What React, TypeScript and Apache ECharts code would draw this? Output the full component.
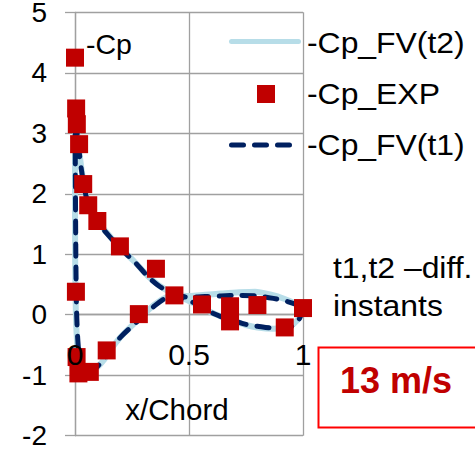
import React, { useEffect, useRef } from "react";
import * as echarts from "echarts";

// Axis ranges and ticks
const xMin = 0;
const xMax = 1;
const xStep = 0.5;
const yMin = -2;
const yMax = 5;
const yStep = 1;

const seriesNames = ["-Cp_FV(t2)", "-Cp_EXP", "-Cp_FV(t1)"];
const yTitle = "-Cp";
const xTitle = "x/Chord";
const noteLines = ["t1,t2 \u2013diff.", "instants"];
const speedLabel = "13 m/s";

// Measured pressure coefficient (x/c, -Cp)
const expPoints: [number, number][] = [
  [0.0, 4.25],
  [0.005, 3.41],
  [0.008, 3.15],
  [0.018, 2.82],
  [0.036, 2.16],
  [0.058, 1.81],
  [0.098, 1.55],
  [0.197, 1.13],
  [0.355, 0.76],
  [0.436, 0.32],
  [0.557, 0.17],
  [0.68, 0.14],
  [0.68, -0.11],
  [0.8, 0.16],
  [0.92, -0.21],
  [1.0, 0.11],
  [0.004, 0.38],
  [0.007, -0.7],
  [0.015, -0.97],
  [0.065, -0.945],
  [0.139, -0.59],
  [0.28, 0.01],
];

// Finite-volume result at instant t1, closed loop around the profile
const fvT1: [number, number][] = [
  [1.0, 0.12], [0.985, -0.06], [0.96, -0.17], [0.93, -0.22], [0.87, -0.22],
  [0.8, -0.19], [0.75, -0.16], [0.7, -0.1], [0.64, -0.03], [0.58, 0.07],
  [0.52, 0.2], [0.47, 0.28], [0.43, 0.35], [0.37, 0.47], [0.32, 0.63],
  [0.26, 0.88], [0.2, 1.09], [0.15, 1.3], [0.1, 1.52], [0.08, 1.63],
  [0.06, 1.8], [0.045, 2.02], [0.028, 2.4], [0.015, 2.8], [0.007, 3.1],
  [0.003, 3.22], [0.001, 2.9], [0.002, 2.0], [0.004, 0.8], [0.007, 0.05],
  [0.012, -0.4], [0.02, -0.75], [0.03, -0.93], [0.045, -1.0], [0.07, -0.94],
  [0.1, -0.85], [0.13, -0.72], [0.16, -0.55], [0.2, -0.37], [0.25, -0.19],
  [0.3, -0.02], [0.35, 0.15], [0.4, 0.28], [0.45, 0.31], [0.5, 0.29],
  [0.57, 0.3], [0.64, 0.31], [0.72, 0.32], [0.8, 0.31], [0.87, 0.27],
  [0.93, 0.22], [0.97, 0.17], [1.0, 0.12],
];

// Finite-volume result at instant t2
const fvT2: [number, number][] = [
  [1.0, 0.12], [0.985, -0.04], [0.96, -0.15], [0.93, -0.21], [0.87, -0.23],
  [0.8, -0.21], [0.75, -0.17], [0.7, -0.11], [0.64, -0.03], [0.58, 0.07],
  [0.52, 0.19], [0.47, 0.28], [0.43, 0.35], [0.37, 0.48], [0.32, 0.64],
  [0.26, 0.88], [0.2, 1.1], [0.15, 1.31], [0.1, 1.54], [0.08, 1.65],
  [0.06, 1.82], [0.045, 2.04], [0.028, 2.42], [0.015, 2.82], [0.007, 3.12],
  [0.002, 3.25], [0.0, 2.9], [0.0, 2.0], [0.001, 0.8], [0.004, 0.0],
  [0.009, -0.45], [0.016, -0.78], [0.026, -0.95], [0.04, -1.0], [0.07, -0.95],
  [0.1, -0.86], [0.13, -0.73], [0.16, -0.56], [0.2, -0.37], [0.25, -0.18],
  [0.3, 0.0], [0.35, 0.17], [0.4, 0.29], [0.45, 0.32], [0.5, 0.31],
  [0.57, 0.33], [0.64, 0.35], [0.72, 0.37], [0.79, 0.38], [0.86, 0.33],
  [0.92, 0.26], [0.97, 0.18], [1.0, 0.12],
];

const FONT = "'Liberation Sans', Arial, Helvetica, sans-serif";
const GRID_COLOR = "#a0a0a0";
const T2_COLOR = "#b7dde8";
const T1_COLOR = "#002060";
const EXP_COLOR = "#c00000";
const T1_DASH = [12, 11];

const GRID_TOP = 12.3;
const GRID_BOTTOM = 18.3;
const CHART_H = 454;

export default function App() {
  const ref = useRef<HTMLDivElement>(null);

  useEffect(() => {
    if (!ref.current) return;
    const chart = echarts.init(ref.current, undefined, { renderer: "svg" });

    // distance from the bottom edge of the plot to the y = 0 line
    const plotH = CHART_H - GRID_TOP - GRID_BOTTOM;
    const zeroOffset = (plotH * (0 - yMin)) / (yMax - yMin);

    const legendText = (text: string, y: number) => ({
      type: "text",
      x: 307,
      y,
      z: 20,
      scaleX: 1.1,
      style: {
        text,
        font: `29px ${FONT}`,
        fill: "#000",
        textAlign: "left",
        textVerticalAlign: "middle",
      },
    });

    chart.setOption({
      animation: false,
      backgroundColor: "#ffffff",
      grid: {
        left: 75,
        right: 172,
        top: GRID_TOP,
        bottom: GRID_BOTTOM,
        containLabel: false,
        outerBoundsMode: "none",
      },
      xAxis: [
        {
          type: "value",
          min: xMin,
          max: xMax,
          interval: xStep,
          axisLine: { onZero: true, lineStyle: { color: GRID_COLOR, width: 1.3 } },
          axisTick: { show: false },
          axisLabel: { show: false },
          splitLine: { show: true, lineStyle: { color: GRID_COLOR, width: 1.3 } },
        },
        {
          // label-only axis drawn above the markers, shifted up to y = 0
          type: "value",
          position: "bottom",
          offset: -zeroOffset,
          min: xMin,
          max: xMax,
          interval: xStep,
          z: 10,
          axisLine: { show: false, onZero: false },
          axisTick: { show: false },
          splitLine: { show: false },
          axisLabel: {
            margin: 25,
            fontSize: 30,
            lineHeight: 30,
            color: "#000",
            fontFamily: FONT,
          },
        },
      ],
      yAxis: {
        type: "value",
        min: yMin,
        max: yMax,
        interval: yStep,
        axisLine: { show: true, lineStyle: { color: GRID_COLOR, width: 1.3 } },
        axisTick: { show: true, length: 10, lineStyle: { color: GRID_COLOR, width: 1.3 } },
        axisLabel: {
          margin: 28,
          fontSize: 28,
          lineHeight: 20,
          color: "#000",
          fontFamily: FONT,
        },
        splitLine: { show: true, lineStyle: { color: GRID_COLOR, width: 1.3 } },
      },
      series: [
        {
          name: seriesNames[0],
          type: "line",
          data: fvT2,
          smooth: 0.3,
          symbol: "none",
          clip: false,
          z: 2,
          lineStyle: { color: T2_COLOR, width: 6, cap: "round", join: "round" },
          itemStyle: { color: T2_COLOR },
        },
        {
          name: seriesNames[2],
          type: "line",
          data: fvT1,
          smooth: 0.3,
          symbol: "none",
          clip: false,
          z: 3,
          lineStyle: { color: T1_COLOR, width: 5, type: T1_DASH, cap: "round", join: "round" },
          itemStyle: { color: T1_COLOR },
        },
        {
          name: seriesNames[1],
          type: "scatter",
          data: expPoints,
          symbol: "rect",
          symbolSize: 18,
          clip: false,
          z: 4,
          itemStyle: { color: EXP_COLOR, opacity: 1 },
        },
      ],
      graphic: [
        // legend keys
        {
          type: "line",
          z: 20,
          shape: { x1: 231.5, y1: 41.5, x2: 298.5, y2: 41.5 },
          style: { stroke: T2_COLOR, lineWidth: 5, lineCap: "round" },
        },
        {
          type: "rect",
          z: 20,
          shape: { x: 257, y: 85, width: 18, height: 18 },
          style: { fill: EXP_COLOR },
        },
        {
          type: "line",
          z: 20,
          shape: { x1: 231.5, y1: 145, x2: 292, y2: 145 },
          style: { stroke: T1_COLOR, lineWidth: 5, lineCap: "round", lineDash: T1_DASH },
        },
        legendText(seriesNames[0], 42.5),
        legendText(seriesNames[1], 94),
        legendText(seriesNames[2], 144.5),
        // axis titles
        {
          type: "text",
          x: 86,
          y: 44,
          z: 20,
          style: {
            text: yTitle,
            font: `28.5px ${FONT}`,
            fill: "#000",
            textAlign: "left",
            textVerticalAlign: "middle",
          },
        },
        {
          type: "text",
          x: 177,
          y: 409,
          z: 20,
          style: {
            text: xTitle,
            font: `29.5px ${FONT}`,
            fill: "#000",
            textAlign: "center",
            textVerticalAlign: "middle",
          },
        },
        // note
        {
          type: "text",
          x: 333,
          y: 268,
          z: 20,
          scaleX: 1.1,
          style: {
            text: noteLines[0],
            font: `29px ${FONT}`,
            fill: "#000",
            textAlign: "left",
            textVerticalAlign: "middle",
          },
        },
        {
          type: "text",
          x: 333,
          y: 306,
          z: 20,
          scaleX: 1.1,
          style: {
            text: noteLines[1],
            font: `29px ${FONT}`,
            fill: "#000",
            textAlign: "left",
            textVerticalAlign: "middle",
          },
        },
        // speed box
        {
          type: "rect",
          z: 19,
          shape: { x: 318.5, y: 347.5, width: 170, height: 80 },
          style: { fill: "#ffffff", stroke: "#ff0000", lineWidth: 2 },
        },
        {
          type: "text",
          x: 340,
          y: 380,
          z: 20,
          style: {
            text: speedLabel,
            font: `bold 36px ${FONT}`,
            fill: EXP_COLOR,
            textAlign: "left",
            textVerticalAlign: "middle",
          },
        },
      ],
    });

    return () => chart.dispose();
  }, []);

  return (
    <div
      ref={ref}
      style={{ position: "fixed", left: 0, top: 0, width: 475, height: CHART_H }}
    />
  );
}
